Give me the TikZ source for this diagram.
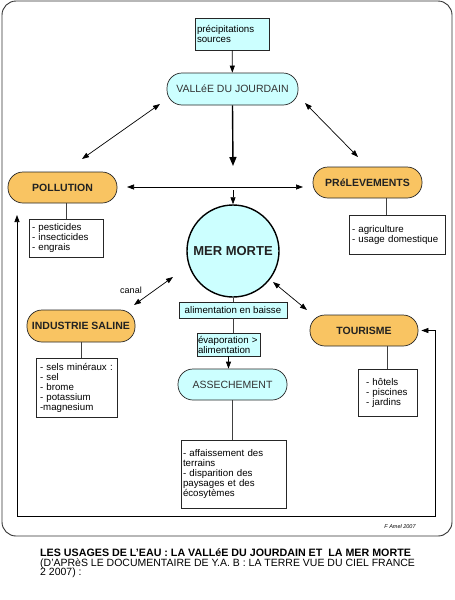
\documentclass[tikz,border=0pt]{standalone}
\usepackage{fontspec}
\setmainfont{Liberation Sans}
\usetikzlibrary{arrows.meta}
\definecolor{cyanfill}{HTML}{CCFFFF}
\definecolor{orangefill}{HTML}{F9C462}
\definecolor{inkdark}{HTML}{222222}
\begin{document}
\begin{tikzpicture}[x=1pt,y=-1pt,
  pill/.style={draw=black!85, line width=0.7pt, rounded corners=15pt, inner sep=0pt, minimum height=31pt},
  cyanpill/.style={pill, fill=cyanfill, font=\fontsize{10.5}{12}\selectfont, text=black!80},
  orangepill/.style={pill, fill=orangefill, font=\fontsize{10.5}{12}\selectfont\bfseries, text=inkdark},
  listbox/.style={draw=black!85, line width=0.6pt, fill=white, inner ysep=0pt, align=left, font=\fontsize{9.7}{10}\selectfont},
  cyanbox/.style={listbox, fill=cyanfill},
  arr/.style={draw=black, line width=0.7pt, -{Triangle[length=7pt,width=5pt]}},
  darr/.style={draw=black, line width=0.7pt, {Triangle[length=7pt,width=5pt]}-{Triangle[length=7pt,width=5pt]}},
  link/.style={draw=black!75, line width=0.7pt},
  titletext/.style={anchor=base west, inner sep=0pt}]
\useasboundingbox (0,0) rectangle (455,600);
\fill[white] (0,0) rectangle (455,600);
% outer frame
\draw[rounded corners=14pt, line width=0.9pt, draw=black!80] (2,1) rectangle (452,536);

% nodes
\node[cyanbox, minimum height=32pt, inner xsep=2pt, text width=70pt] (prec) at (232,34) {précipitations\\sources};
\node[cyanpill, minimum width=131pt, minimum height=32pt] (vallee) at (232.5,89) {VALLéE DU JOURDAIN};
\node[orangepill, minimum width=109pt] (pollution) at (62.5,187.5) {POLLUTION};
\node[listbox, minimum height=38pt, inner xsep=3pt, text width=68pt] (pollbox) at (66,238) {- pesticides\\- insecticides\\- engrais};
\node[orangepill, minimum width=109pt] (prelev) at (367.5,182.5) {PRéLEVEMENTS};
\node[listbox, minimum height=39pt, inner xsep=3pt, text width=90pt] (prelbox) at (397,234.5) {- agriculture\\- usage domestique};
\node[circle, draw=black, line width=1.4pt, fill=cyanfill, minimum size=92pt, inner sep=0pt, font=\fontsize{13}{14}\selectfont\bfseries, text=inkdark] (mer) at (233,251) {MER MORTE};
\node[cyanbox, minimum width=108pt, minimum height=16pt, inner xsep=0pt] (alim) at (233,310) {alimentation en baisse};
\node[cyanbox, minimum height=23pt, inner xsep=1pt, text width=61pt] (evap) at (228.5,344.5) {évaporation >\\alimentation};
\node[cyanpill, minimum width=109pt] (assech) at (232.5,384.5) {ASSECHEMENT};
\node[listbox, minimum height=68pt, inner xsep=2pt, text width=101pt] (effects) at (233.5,474) {- affaissement des\\terrains\\- disparition des\\paysages et des\\écosytèmes\\[4pt]};
\node[orangepill, minimum width=108pt, minimum height=32pt] (industrie) at (81,326) {INDUSTRIE SALINE};
\node[listbox, minimum height=59pt, inner xsep=4pt, text width=73pt] (indbox) at (76.5,387.5) {- sels minéraux :\\- sel\\- brome\\- potassium\\-magnesium};
\node[orangepill, minimum width=108pt] (tourisme) at (364,330.5) {TOURISME};
\node[listbox, minimum height=47pt, inner xsep=8pt, text width=43pt] (tourbox) at (387.5,392.5) {- hôtels\\- piscines\\- jardins};
\node[font=\fontsize{9}{10}\selectfont, inner sep=0pt] (canal) at (131,290) {canal};

% connectors
\draw[arr] (prec) -- (vallee);
\coordinate (vtip) at (233,166);
\draw[draw=black, line width=1.4pt, -{Triangle[length=9pt,width=7pt]}] (vallee.south) -- (vtip);
\coordinate (mtop) at (233,190);
\draw[arr] (mtop) -- (mer.north);
\coordinate (hl) at (127,187);
\coordinate (hr) at (303,187);
\draw[darr] (hl) -- (hr);
\coordinate (vp1) at (160,104);
\coordinate (vp2) at (82,159);
\draw[darr] (vp1) -- (vp2);
\coordinate (vr1) at (305,103);
\coordinate (vr2) at (358,157);
\draw[darr] (vr1) -- (vr2);
\coordinate (ca1) at (134,305);
\coordinate (ca2) at (173,277);
\draw[darr] (ca1) -- (ca2);
\coordinate (mt1) at (273,282);
\coordinate (mt2) at (307,310);
\draw[darr] (mt1) -- (mt2);

\draw[link] (pollbox.north) -- (pollbox.north |- pollution.south);
\draw[link] ([xshift=-11pt]prelbox.north) -- ++(0,-17);
\draw[link] (mer.south) -- (alim.north);
\draw[link] (alim.south) -- (alim.south |- evap.north);
\draw[arr] (evap.south) -- (evap.south |- assech.north);
\draw[link] (assech.south) -- (assech.south |- effects.north);
\draw[link] (industrie.south) -- (industrie.south |- indbox.north);
\draw[link] (tourbox.north) -- (tourbox.north |- tourisme.south);

% loop
\coordinate (ptip) at (17,215);
\coordinate (lb) at (17,516);
\coordinate (rb) at (435,516);
\draw[darr] (ptip) -- (lb) -- (rb) |- ([xshift=3pt]tourisme.east);

% signature and title
\node[font=\fontsize{5.5}{6}\selectfont\itshape, inner sep=0pt] (sig) at (400,527) {F Amel 2007};
\node[titletext, font=\fontsize{10.7}{10}\selectfont\bfseries] (t1) at (40,556) {LES USAGES DE L'EAU : LA VALLéE DU JOURDAIN ET\ \ LA MER MORTE};
\node[titletext, font=\fontsize{10.5}{10}\selectfont] (t2) at (40,566) {(D'APRèS LE DOCUMENTAIRE DE Y.A. B : LA TERRE VUE DU CIEL FRANCE};
\node[titletext, font=\fontsize{10.5}{10}\selectfont] (t3) at (40,575.5) {2 2007) :};
\end{tikzpicture}
\end{document}
